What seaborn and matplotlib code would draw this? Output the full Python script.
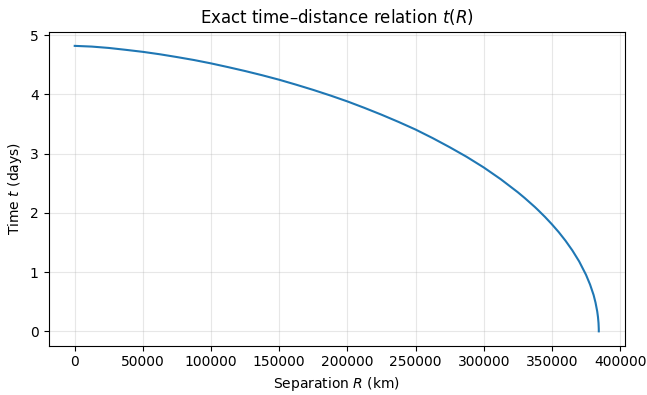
import matplotlib
matplotlib.use("Agg")
import matplotlib.pyplot as plt
import matplotlib.ticker as mticker
import seaborn as sns
import pandas as pd

# Values
separation_km = [0, 12500, 25000, 37500, 50000, 62500, 75000, 87500, 100000,
                 112500, 125000, 137500, 150000, 162500, 175000, 187500, 200000,
                 212500, 225000, 237500, 250000, 262500, 275000, 287500, 300000,
                 312500, 325000, 330000, 337500, 340000, 345000, 350000, 355000,
                 360000, 365000, 370000, 375000, 378000, 380600, 382000, 383250,
                 383800, 384200, 384380, 384400]
time_days = [4.821, 4.809, 4.786, 4.754, 4.720, 4.679, 4.632, 4.582, 4.525,
             4.462, 4.396, 4.325, 4.249, 4.165, 4.077, 3.983, 3.883,
             3.774, 3.659, 3.537, 3.408, 3.264, 3.110, 2.947, 2.768,
             2.569, 2.349, 2.253, 2.100, 2.045, 1.931, 1.808, 1.676,
             1.530, 1.367, 1.181, 0.956, 0.790, 0.613, 0.485, 0.336,
             0.242, 0.140, 0.044, 0.0]

df = pd.DataFrame({"R": separation_km, "t": time_days})

plt.rcParams['font.family'] = ['DejaVu Sans']

fig, ax = plt.subplots(figsize=(6.47, 3.95), dpi=100)
sns.lineplot(data=df, x="R", y="t", ax=ax, color="#1f77b4", linewidth=1.5, sort=False)
ax.grid(True, alpha=0.3)
ax.set_title("Exact time–distance relation $t(R)$", fontsize=12)
ax.set_xlabel("Separation $R$ (km)", fontsize=10)
ax.set_ylabel("Time $t$ (days)", fontsize=10)
ax.tick_params(labelsize=10)
ax.set_xticks([0, 50000, 100000, 150000, 200000, 250000, 300000, 350000, 400000])
ax.set_yticks([0, 1, 2, 3, 4, 5])
ax.xaxis.set_major_formatter(mticker.FuncFormatter(lambda v, p: f"{int(v)}"))
ax.margins(x=0.05, y=0.05)
fig.subplots_adjust(left=0.075, right=0.966, top=0.92, bottom=0.125)
fig.savefig("out.png", dpi=100)
